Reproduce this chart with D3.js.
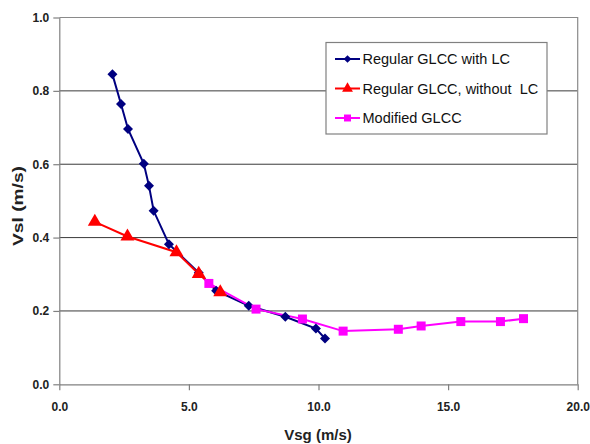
<!DOCTYPE html>
<html><head><meta charset="utf-8">
<script src="https://cdn.jsdelivr.net/npm/d3@7"></script>
<style>
html,body{margin:0;padding:0;background:#fff;}
svg{display:block;font-family:Arial,"Liberation Sans",sans-serif;}
</style></head>
<body><svg id="chart" width="590" height="444"></svg>
<script>
// Data
const withLC_x = [2.05, 2.38, 2.65, 3.26, 3.46, 3.64, 4.23, 5.38, 6.05, 7.31, 8.72, 9.90, 10.25];
const withLC_y = [0.845, 0.764, 0.696, 0.601, 0.541, 0.473, 0.382, 0.304, 0.255, 0.214, 0.184, 0.152, 0.125];
const withoutLC_x = [1.37, 2.63, 4.52, 5.38, 6.21];
const withoutLC_y = [0.443, 0.403, 0.360, 0.301, 0.251];
const modified_x = [5.77, 7.59, 9.38, 10.95, 13.08, 13.96, 15.49, 17.02, 17.91];
const modified_y = [0.275, 0.205, 0.178, 0.145, 0.150, 0.159, 0.171, 0.171, 0.179];
const xTicks = [0, 5, 10, 15, 20];
const yTicks = [0, 0.2, 0.4, 0.6, 0.8, 1.0];
const seriesNames = ["Regular GLCC with LC", "Regular GLCC, without  LC", "Modified GLCC"];
const xTitle = "Vsg (m/s)";
const yTitle = "Vsl (m/s)";

const svg = d3.select("#chart");
const L = 59.3, R = 577.7, T = 17.5, B = 384.3;
const x = d3.scaleLinear().domain([0, 20]).range([L, R]);
const y = d3.scaleLinear().domain([0, 1]).range([B, T]);

// gridlines
svg.append("g").selectAll("line").data(yTicks.filter(d => d > 0 && d < 1)).join("line")
  .attr("x1", L).attr("x2", R).attr("y1", d => y(d)).attr("y2", d => y(d))
  .attr("stroke", "#3a3a3a").attr("stroke-width", 1);
// border top/right
svg.append("path").attr("d", `M${L},${T}H${R}V${B}`).attr("fill", "none").attr("stroke", "#8a8a8a").attr("stroke-width", 1.2);

// axes
const xAxis = d3.axisBottom(x).tickValues(xTicks).tickFormat(d3.format(".1f")).tickSizeInner(6).tickSizeOuter(0).tickPadding(12);
const gx = svg.append("g").attr("transform", `translate(0,${B})`).call(xAxis);
const yAxis = d3.axisLeft(y).tickValues(yTicks).tickFormat(d3.format(".1f")).tickSizeInner(6).tickSizeOuter(0).tickPadding(4);
const gy = svg.append("g").attr("transform", `translate(${L},0)`).call(yAxis);
[gx, gy].forEach(g => {
  g.select(".domain").attr("stroke", "#808080").attr("stroke-width", 1.2);
  g.selectAll(".tick line").attr("stroke", "#808080").attr("stroke-width", 1.2);
  g.selectAll(".tick text").attr("font-family", "Arial, 'Liberation Sans', sans-serif")
    .attr("font-size", 12).attr("font-weight", "bold").attr("fill", "#222");
});

// axis titles
svg.append("text").attr("x", 318).attr("y", 440).attr("text-anchor", "middle")
  .attr("font-size", 15).attr("font-weight", "bold").attr("fill", "#222").text(xTitle);
svg.append("text").attr("transform", "translate(23,206) rotate(-90)").attr("text-anchor", "middle")
  .attr("font-size", 15).attr("font-weight", "bold").attr("fill", "#222")
  .attr("textLength", 80).attr("lengthAdjust", "spacingAndGlyphs").text(yTitle);

// series
const zip = (xs, ys) => xs.map((v, i) => [v, ys[i]]);
const line = d3.line().x(d => x(d[0])).y(d => y(d[1]));
const series = [
  {data: zip(withLC_x, withLC_y), color: "#000080", sym: d3.symbolSquare, size: 50, rot: 45, dy: 0},
  {data: zip(withoutLC_x, withoutLC_y), color: "#ff0000", sym: d3.symbolTriangle, size: 85, rot: 0, dy: 0},
  {data: zip(modified_x, modified_y), color: "#ff00ff", sym: d3.symbolSquare, size: 81, rot: 0, dy: 0}
];
series.forEach(s => {
  svg.append("path").attr("d", line(s.data)).attr("fill", "none").attr("stroke", s.color).attr("stroke-width", 2);
});
series.forEach(s => {
  svg.append("g").selectAll("path").data(s.data).join("path")
    .attr("transform", d => `translate(${x(d[0])},${y(d[1]) + s.dy}) rotate(${s.rot})`)
    .attr("d", d3.symbol().type(s.sym).size(s.size)).attr("fill", s.color);
});

// legend
const lg = svg.append("g");
lg.append("rect").attr("x", 326).attr("y", 42.5).attr("width", 221).attr("height", 91.5)
  .attr("fill", "#fff").attr("stroke", "#808080").attr("stroke-width", 1.2);
series.forEach((s, i) => {
  const cy = 59 + i * 29.5;
  lg.append("line").attr("x1", 335).attr("x2", 360).attr("y1", cy).attr("y2", cy)
    .attr("stroke", s.color).attr("stroke-width", 2);
  lg.append("path").attr("transform", `translate(347.5,${cy}) rotate(${s.rot})`)
    .attr("d", d3.symbol().type(s.sym).size(s.size * 0.6)).attr("fill", s.color);
  lg.append("text").attr("x", 362.5).attr("y", cy + 5).attr("font-size", 14.5).attr("fill", "#111")
    .style("white-space", "pre").text(seriesNames[i]);
});
</script></body></html>
